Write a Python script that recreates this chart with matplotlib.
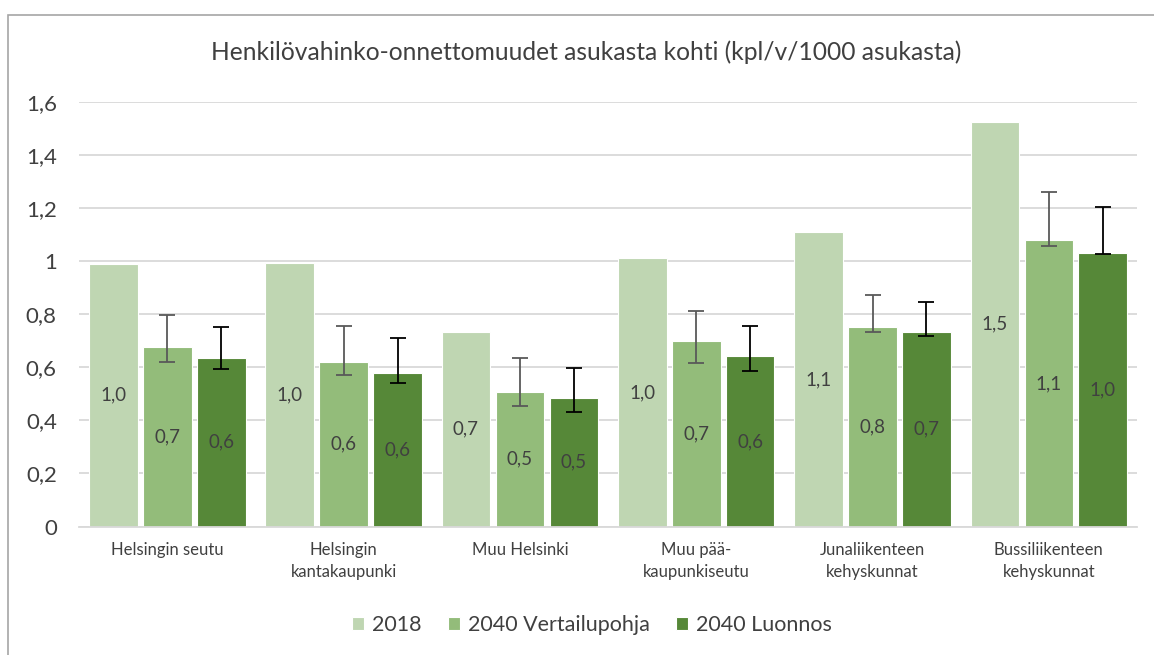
import matplotlib
matplotlib.use('Agg')
import matplotlib.pyplot as plt
from matplotlib.patches import Rectangle
import numpy as np

plt.rcParams['font.family'] = ['Lato', 'DejaVu Sans']

# Data
alueet = ['Helsingin seutu', 'Helsingin\nkantakaupunki', 'Muu Helsinki',
          'Muu pää-\nkaupunkiseutu', 'Junaliikenteen\nkehyskunnat', 'Bussiliikenteen\nkehyskunnat']
sarjat = ['2018', '2040 Vertailupohja', '2040 Luonnos']
arvot_2018 = [0.989, 0.992, 0.734, 1.010, 1.108, 1.523]
arvot_vertailu = [0.675, 0.620, 0.507, 0.698, 0.751, 1.078]
arvot_luonnos = [0.635, 0.580, 0.485, 0.641, 0.733, 1.031]
# virhepalkkien ala- ja yläpäät
vertailu_ala = [0.620, 0.569, 0.454, 0.616, 0.733, 1.058]
vertailu_yla = [0.798, 0.756, 0.635, 0.811, 0.872, 1.258]
luonnos_ala = [0.594, 0.541, 0.431, 0.585, 0.716, 1.026]
luonnos_yla = [0.753, 0.709, 0.596, 0.757, 0.846, 1.204]

varit = ['#BFD6B2', '#93BC7A', '#568838']
tekstivari = '#404040'

fig = plt.figure(figsize=(11.54, 6.55), dpi=100)
ax = fig.add_axes([0.0685, 0.196, 0.9168, 0.6488])

# chart border (Excel frame)
fig.patches.append(Rectangle((8 / 1154, -0.1), 1.2, 1 - 15 / 655 + 0.1,
                             transform=fig.transFigure, fill=False,
                             edgecolor='#A6A6A6', linewidth=1.2))

x = np.arange(len(alueet))
leveys = 0.276
vali = 0.306

kaikki = [arvot_2018, arvot_vertailu, arvot_luonnos]
for i, (nimi, arvot, vari) in enumerate(zip(sarjat, kaikki, varit)):
    pos = x + (i - 1) * vali
    palkit = ax.bar(pos, arvot, width=leveys, color=vari, edgecolor='white',
                    linewidth=0.8, label=nimi, zorder=2)
    for p, v in zip(pos, arvot):
        ax.text(p, v / 2, f'{v:.1f}'.replace('.', ','), ha='center', va='center',
                fontsize=13.5, color=tekstivari, zorder=4)

# virhepalkit
v = np.array(arvot_vertailu)
ax.errorbar(x, v, yerr=[v - np.array(vertailu_ala), np.array(vertailu_yla) - v],
            fmt='none', ecolor='#595959', elinewidth=1.3, capsize=6, capthick=1.3, zorder=3)
l = np.array(arvot_luonnos)
ax.errorbar(x + vali, l, yerr=[l - np.array(luonnos_ala), np.array(luonnos_yla) - l],
            fmt='none', ecolor='#000000', elinewidth=1.3, capsize=6, capthick=1.3, zorder=3)

ax.set_xlim(-0.5, len(alueet) - 0.5)
ax.set_ylim(0, 1.6)
ax.set_yticks(np.arange(0, 1.61, 0.2))
ax.set_yticklabels(['0', '0,2', '0,4', '0,6', '0,8', '1', '1,2', '1,4', '1,6'])
ax.set_xticks(x)
ax.set_xticklabels(alueet, fontsize=12, color=tekstivari, linespacing=1.45)
ax.tick_params(axis='y', length=0, labelsize=16, labelcolor=tekstivari, pad=16)
ax.tick_params(axis='x', length=0, pad=11)
ax.grid(axis='y', color='#D9D9D9', linewidth=1.3, zorder=0)
ax.set_axisbelow(True)
for s in ['top', 'right', 'left']:
    ax.spines[s].set_visible(False)
ax.spines['bottom'].set_color('#D9D9D9')
ax.spines['bottom'].set_linewidth(1.3)

fig.text(0.508, 1 - 52 / 655, 'Henkilövahinko-onnettomuudet asukasta kohti (kpl/v/1000 asukasta)',
         ha='center', va='center', fontsize=17.7, color=tekstivari)

fig.legend(loc='center', bbox_to_anchor=(0.513, 1 - 625 / 655), ncol=3, frameon=False,
           fontsize=15.5, handlelength=0.55, handleheight=0.55, handletextpad=0.35,
           columnspacing=1.25, labelcolor=tekstivari)

fig.savefig('out.png', dpi=100)
